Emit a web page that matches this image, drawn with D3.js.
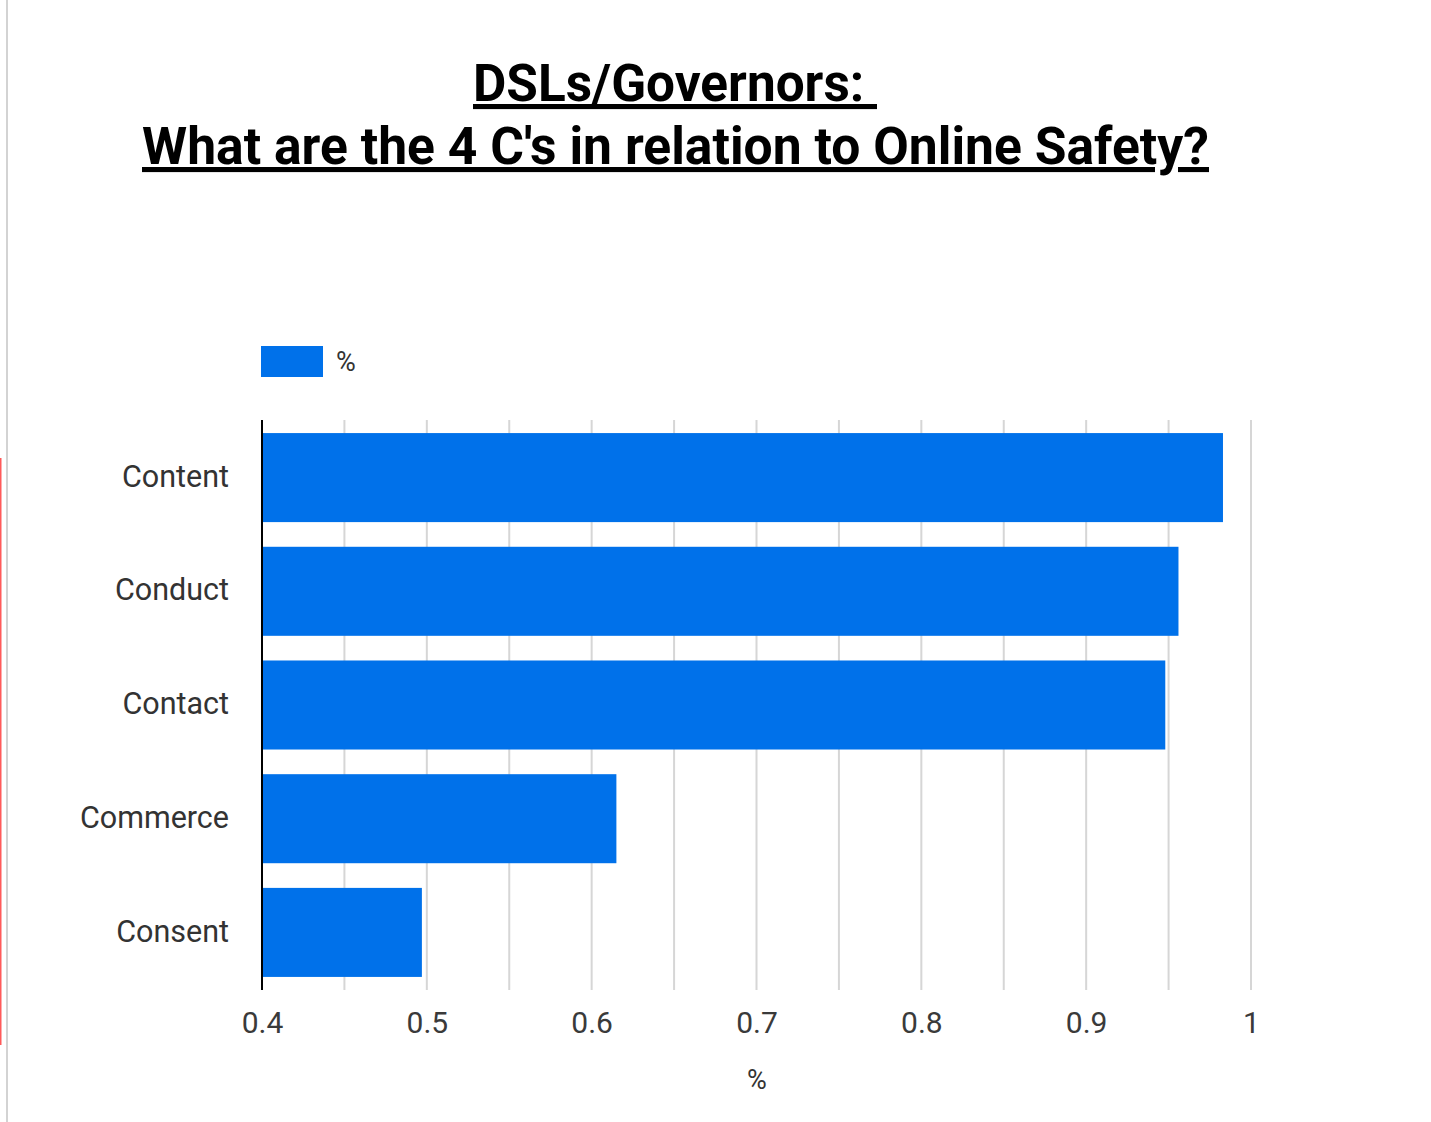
<!DOCTYPE html>
<html><head><meta charset="utf-8">
<script src="https://cdn.jsdelivr.net/npm/d3@7"></script>
<style>html,body{margin:0;padding:0;background:#fff;}svg{display:block;}</style>
</head><body>
<script>
const categories = ["Content", "Conduct", "Contact", "Commerce", "Consent"];
const values = [0.983, 0.956, 0.948, 0.615, 0.497];
const tickValues = [0.4, 0.5, 0.6, 0.7, 0.8, 0.9, 1];
const gridValues = [0.4, 0.45, 0.5, 0.55, 0.6, 0.65, 0.7, 0.75, 0.8, 0.85, 0.9, 0.95, 1];
const titleLines = ["DSLs/Governors: ", "What are the 4 C's in relation to Online Safety?"];
const seriesName = "%";
const axisTitle = "%";

const W = 1431, H = 1122;
const svg = d3.select("body").append("svg").attr("width", W).attr("height", H);

// page decorations
svg.append("line").attr("x1", 7).attr("x2", 7).attr("y1", 0).attr("y2", H)
  .attr("stroke", "#c4c4c4").attr("stroke-width", 1.5);
svg.append("line").attr("x1", 0.75).attr("x2", 0.75).attr("y1", 458).attr("y2", 1045)
  .attr("stroke", "#ff5a5a").attr("stroke-width", 1.5);

const font = "Roboto, 'Noto Sans', sans-serif";
const bar = "#0071EA";

// title
const tl = svg.append("g").attr("font-family", font).attr("font-weight", "bold")
  .attr("font-size", 51).attr("fill", "#000").attr("text-anchor", "middle")
  .attr("text-decoration", "underline").style("text-decoration", "underline");
tl.append("text").attr("x", 675).attr("y", 101).attr("textLength", 404)
  .attr("lengthAdjust", "spacingAndGlyphs").attr("xml:space", "preserve")
  .style("white-space", "pre").text(titleLines[0]);
tl.append("text").attr("x", 675.5).attr("y", 164).attr("textLength", 1067)
  .attr("lengthAdjust", "spacingAndGlyphs").text(titleLines[1]);

const x = d3.scaleLinear().domain([0.4, 1]).range([262, 1251]);
const y = d3.scaleBand().domain(categories).range([420, 990]).paddingInner(0.217).paddingOuter(0.115);

// gridlines
svg.append("g").selectAll("line").data(gridValues).join("line")
  .attr("x1", d => x(d)).attr("x2", d => x(d)).attr("y1", 420).attr("y2", 990)
  .attr("stroke", "#d6d6d6").attr("stroke-width", 2);

// bars
svg.append("g").selectAll("rect").data(values).join("rect")
  .attr("x", x(0.4)).attr("y", (d, i) => y(categories[i]))
  .attr("width", d => x(d) - x(0.4)).attr("height", y.bandwidth())
  .attr("fill", bar);

// axis line
svg.append("line").attr("x1", x(0.4)).attr("x2", x(0.4)).attr("y1", 420).attr("y2", 990)
  .attr("stroke", "#000").attr("stroke-width", 2);

// y axis labels
const yAxis = d3.axisLeft(y).tickSize(0).tickPadding(33);
const yg = svg.append("g").attr("transform", `translate(${x(0.4)},0)`).call(yAxis);
yg.select(".domain").remove();
yg.selectAll("text").attr("font-family", font).attr("font-size", 30.5).attr("fill", "#333")
  .attr("dy", "0.3em");

// x axis labels
const xAxis = d3.axisBottom(x).tickValues(tickValues).tickSize(0).tickPadding(0)
  .tickFormat(d => d3.format("")(d));
const xg = svg.append("g").attr("transform", `translate(0,1033)`).call(xAxis);
xg.select(".domain").remove();
xg.selectAll("text").attr("font-family", font).attr("font-size", 30).attr("fill", "#3a3a3a")
  .attr("dy", 0).attr("y", 0);

// axis title
svg.append("text").attr("x", 757).attr("y", 1089).attr("text-anchor", "middle")
  .attr("font-family", font).attr("font-size", 27).attr("fill", "#333").text(axisTitle);

// legend
svg.append("rect").attr("x", 261).attr("y", 346).attr("width", 62).attr("height", 31).attr("fill", bar);
svg.append("text").attr("x", 336).attr("y", 371).attr("font-family", font).attr("font-size", 27)
  .attr("fill", "#333").text(seriesName);
</script>
</body></html>
